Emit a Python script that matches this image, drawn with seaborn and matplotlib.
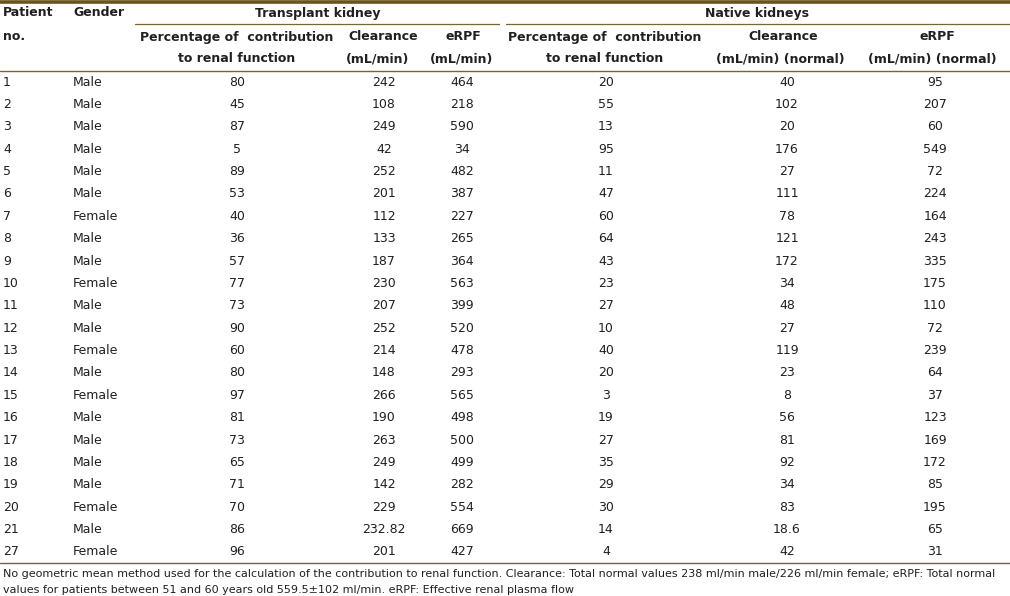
import matplotlib
matplotlib.use("Agg")
import matplotlib.pyplot as plt
import seaborn as sns

patient_no = ["1", "2", "3", "4", "5", "6", "7", "8", "9", "10", "11",
              "12", "13", "14", "15", "16", "17", "18", "19", "20", "21", "27"]
gender = ["Male", "Male", "Male", "Male", "Male", "Male", "Female", "Male",
          "Male", "Female", "Male", "Male", "Female", "Male", "Female", "Male",
          "Male", "Male", "Male", "Female", "Male", "Female"]
tx_pct = ["80", "45", "87", "5", "89", "53", "40", "36", "57", "77", "73",
          "90", "60", "80", "97", "81", "73", "65", "71", "70", "86", "96"]
tx_clear = ["242", "108", "249", "42", "252", "201", "112", "133", "187", "230",
            "207", "252", "214", "148", "266", "190", "263", "249", "142", "229",
            "232.82", "201"]
tx_erpf = ["464", "218", "590", "34", "482", "387", "227", "265", "364", "563",
           "399", "520", "478", "293", "565", "498", "500", "499", "282", "554",
           "669", "427"]
nat_pct = ["20", "55", "13", "95", "11", "47", "60", "64", "43", "23", "27",
           "10", "40", "20", "3", "19", "27", "35", "29", "30", "14", "4"]
nat_clear = ["40", "102", "20", "176", "27", "111", "78", "121", "172", "34",
             "48", "27", "119", "23", "8", "56", "81", "92", "34", "83",
             "18.6", "42"]
nat_erpf = ["95", "207", "60", "549", "72", "224", "164", "243", "335", "175",
            "110", "72", "239", "64", "37", "123", "169", "172", "85", "195",
            "65", "31"]

footnote = [
    "No geometric mean method used for the calculation of the contribution to renal function. "
    "Clearance: Total normal values 238 ml/min male/226 ml/min female; eRPF: Total normal",
    "values for patients between 51 and 60 years old 559.5\u00b1102 ml/min. eRPF: Effective renal plasma flow",
]

sns.set_style("white")
plt.rcParams["font.family"] = ["DejaVu Sans"]

line_col = "#7a6530"
band_col = "#6b5218"
txt = "#231f20"

fig = plt.figure(figsize=(10.1, 5.96), dpi=100)
ax = fig.add_axes([0, 0, 1, 1])
ax.set_xlim(0, 1010)
ax.set_ylim(596, 0)
ax.axis("off")

# rules
ax.plot([0, 1010], [1.5, 1.5], color=band_col, lw=2.6, solid_capstyle="butt")
ax.plot([135, 499], [24, 24], color=line_col, lw=0.9)
ax.plot([506, 1010], [24, 24], color=line_col, lw=0.9)
ax.plot([0, 1010], [70.5, 70.5], color=line_col, lw=1.0)
ax.plot([0, 1010], [563, 563], color=line_col, lw=1.0)

# header
hfs = 9
hk = dict(fontsize=hfs, fontweight="bold", color=txt, va="center")
ax.text(3, 13, "Patient", ha="left", **hk)
ax.text(3, 36, "no.", ha="left", **hk)
ax.text(73, 13, "Gender", ha="left", **hk)
ax.text(318, 13, "Transplant kidney", ha="center", **hk)
ax.text(757, 13, "Native kidneys", ha="center", **hk)
ax.text(237, 37, "Percentage of  contribution", ha="center", **hk)
ax.text(237, 59, "to renal function", ha="center", **hk)
ax.text(383, 37, "Clearance", ha="center", **hk)
ax.text(378, 59, "(mL/min)", ha="center", **hk)
ax.text(463, 37, "eRPF", ha="center", **hk)
ax.text(462, 59, "(mL/min)", ha="center", **hk)
ax.text(605, 37, "Percentage of  contribution", ha="center", **hk)
ax.text(605, 59, "to renal function", ha="center", **hk)
ax.text(783, 37, "Clearance", ha="center", **hk)
ax.text(780, 59, "(mL/min) (normal)", ha="center", **hk)
ax.text(937, 37, "eRPF", ha="center", **hk)
ax.text(932, 59, "(mL/min) (normal)", ha="center", **hk)

# body rows
y0, dy = 82, 22.38
bk = dict(fontsize=9, color=txt, va="center")
cols = [(3, "left", patient_no), (73, "left", gender), (237, "center", tx_pct),
        (384, "center", tx_clear), (462, "center", tx_erpf),
        (606, "center", nat_pct), (787, "center", nat_clear),
        (935, "center", nat_erpf)]
for x, ha, values in cols:
    for i, v in enumerate(values):
        ax.text(x, y0 + i * dy, v, ha=ha, **bk)

# footnote
for j, line in enumerate(footnote):
    ax.text(3, 574 + j * 16, line, fontsize=8.05, color=txt, ha="left", va="center")

fig.savefig("out.png", dpi=100)
